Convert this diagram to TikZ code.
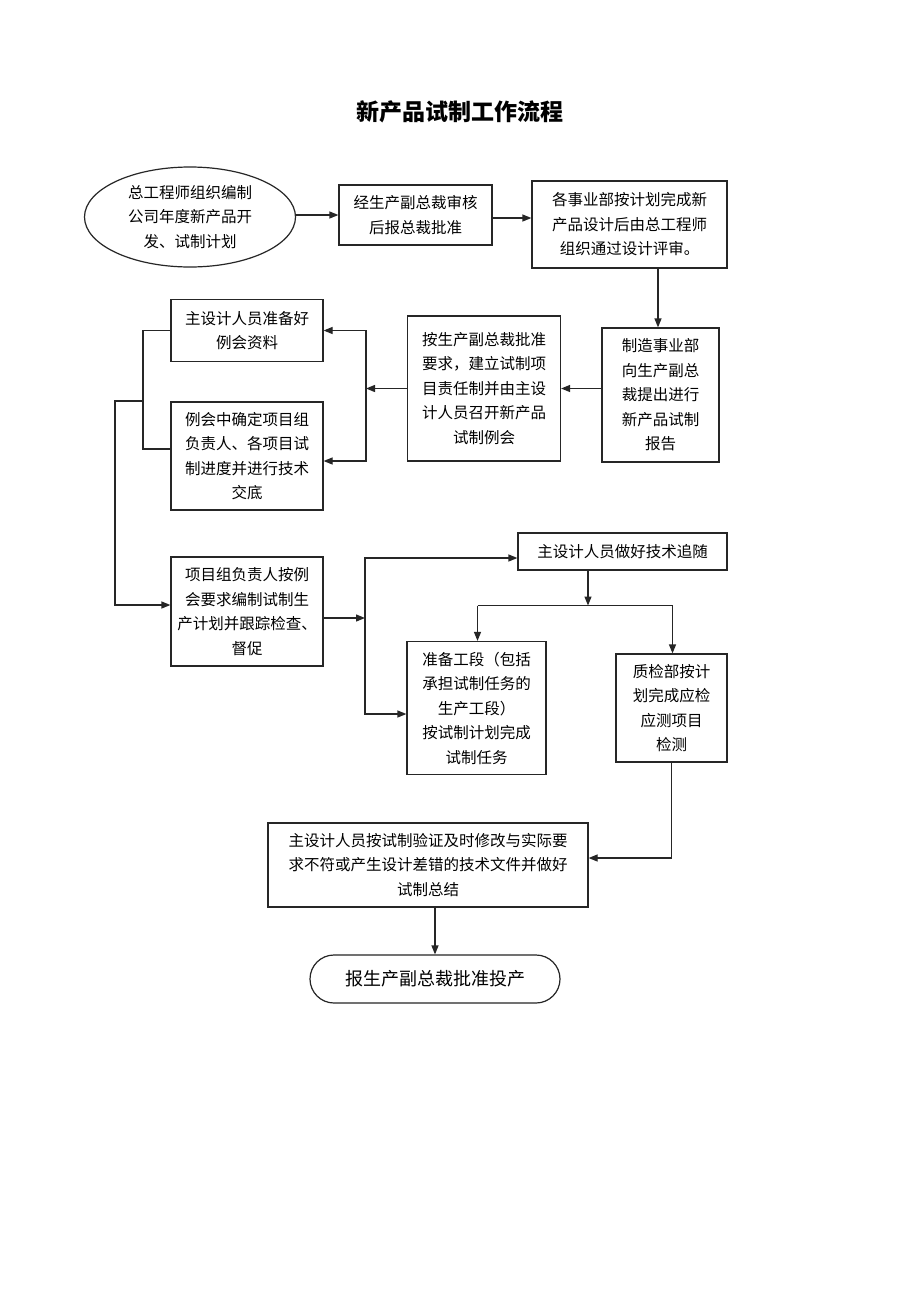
\documentclass[tikz,border=0pt]{standalone}
\usepackage{fontspec}
\newfontfamily\cjk{Noto Sans CJK SC}
\usetikzlibrary{arrows.meta,shapes.geometric,calc}
\tikzset{
  box/.style={draw=black!85, line width=1.2pt, rectangle, align=center, inner sep=0pt,
    font=\cjk\fontsize{15.5}{24.5}\selectfont},
  oval/.style={draw=black!85, line width=1.2pt, ellipse, align=center, inner sep=0pt,
    font=\cjk\fontsize{15.5}{24.5}\selectfont},
  arr/.style={draw=black!85, line width=1.2pt, -{Triangle[length=9pt,width=7pt]}},
  ln/.style={draw=black!85, line width=1.2pt}
}
\begin{document}
\begin{tikzpicture}[x=1pt,y=-1pt]
\useasboundingbox (0,0) rectangle (920,1302);
\fill[white] (0,0) rectangle (920,1302);
\node (title) at (460,112) {\cjk\bfseries\fontsize{23}{28}\selectfont 新产品试制工作流程};

\node[oval, minimum width=211pt, minimum height=100pt] (e1) at (190,217)
  {总工程师组织编制\\公司年度新产品开\\发、试制计划};
\node[box, minimum width=153pt, minimum height=60pt] (b2) at (415.5,215)
  {经生产副总裁审核\\后报总裁批准};
\node[box, minimum width=195pt, minimum height=87pt] (b3) at (629.5,224.5)
  {各事业部按计划完成新\\产品设计后由总工程师\\组织通过设计评审。};
\node[box, minimum width=117pt, minimum height=134pt] (b4) at (660.5,395)
  {制造事业部\\向生产副总\\裁提出进行\\新产品试制\\报告};
\node[box, minimum width=153pt, minimum height=145pt] (b5) at (484,388.5)
  {按生产副总裁批准\\要求，建立试制项\\目责任制并由主设\\计人员召开新产品\\试制例会};
\node[box, minimum width=152pt, minimum height=62pt] (b6) at (247,330.5)
  {主设计人员准备好\\例会资料};
\node[box, minimum width=152pt, minimum height=108pt] (b7) at (247,456)
  {例会中确定项目组\\负责人、各项目试\\制进度并进行技术\\交底};
\node[box, minimum width=152pt, minimum height=109pt] (b8) at (247,611.5)
  {项目组负责人按例\\会要求编制试制生\\产计划并跟踪检查、\\督促};
\node[box, minimum width=209pt, minimum height=37pt] (b9) at (622.5,551.5)
  {主设计人员做好技术追随};
\node[box, minimum width=139pt, minimum height=133pt] (b10) at (476.5,708)
  {准备工段（包括\\承担试制任务的\\生产工段）\\按试制计划完成\\试制任务};
\node[box, minimum width=111pt, minimum height=108pt] (b11) at (671.5,708)
  {质检部按计\\划完成应检\\应测项目\\检测};
\node[box, minimum width=320pt, minimum height=84pt] (b12) at (428,865)
  {主设计人员按试制验证及时修改与实际要\\求不符或产生设计差错的技术文件并做好\\试制总结};
\node[box, rounded corners=24pt, minimum width=250pt, minimum height=48pt,
  font=\cjk\fontsize{18}{22}\selectfont] (e2) at (435,979)
  {报生产副总裁批准投产};

\coordinate (j1) at (366,388.5);
\coordinate (j2) at (143,401);
\coordinate (j3) at (365,618);
\coordinate (j4) at (588,605.5);

\draw[arr] (e1.east|-b2.west) -- (b2.west);
\draw[arr] ([yshift=-3pt]b2.east) -- ([yshift=-3pt]b2.east-|b3.west);
\draw[arr] ([xshift=-2.5pt]b4.north|-b3.south) -- ([xshift=-2.5pt]b4.north);
\draw[arr] (b5.east-|b4.west) -- (b5.east);
\draw[arr] (b5.west) -- (j1);
\draw[arr] (j1) |- (b6.east);
\draw[arr] (j1) |- ([yshift=-5pt]b7.east);
\draw[ln] (b6.west) -- (j2|-b6.west) |- ([yshift=7pt]b7.west);
\draw[arr] (j2) -- ++(-28,0) |- ([yshift=6.5pt]b8.west);
\draw[arr] ([yshift=-6.5pt]b8.east) -- (j3);
\draw[arr] (j3) |- ([yshift=-6.5pt]b9.west);
\draw[arr] (j3) |- ([yshift=-6pt]b10.west);
\draw[arr] (j4|-b9.south) -- (j4);
\draw[arr] ([xshift=1pt]j4-|b10.north) -- ([xshift=1pt]b10.north);
\draw[ln] ([xshift=1pt]j4-|b10.north) -- ([xshift=1pt]j4-|b11.north);
\draw[arr] ([xshift=1pt]j4-|b11.north) -- ([xshift=1pt]b11.north);
\draw[arr] (b11.south) |- ([yshift=7pt]b12.east);
\draw[arr] (e2.north|-b12.south) -- (e2.north);
\end{tikzpicture}
\end{document}
